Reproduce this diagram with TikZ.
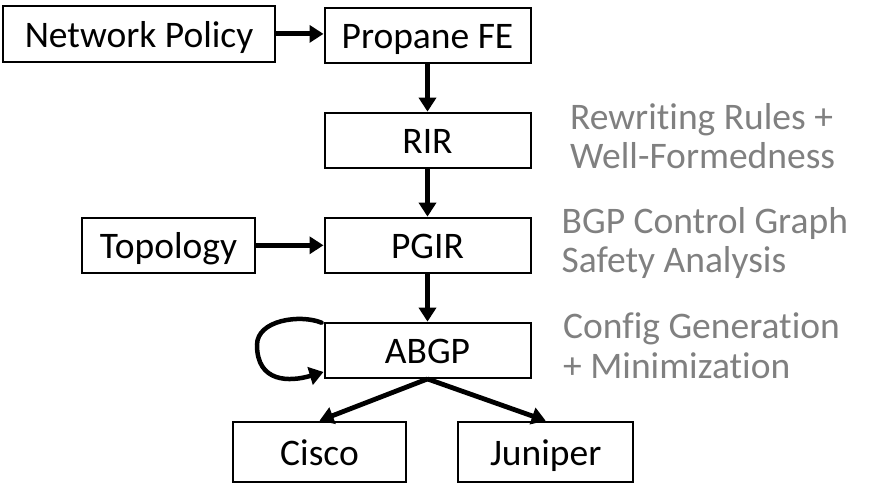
\documentclass[tikz,border=0pt]{standalone}
\usepackage{fontspec}
\setmainfont{Carlito}[RawFeature={-liga;-clig}]
\usetikzlibrary{arrows.meta}
\definecolor{notegray}{RGB}{128,128,128}
\tikzset{
  box/.style={draw=black, line width=2pt, inner sep=0pt, text height=27.2pt, text depth=0pt,
              font=\fontsize{37.5}{45}\selectfont},
  conn/.style={line width=4.8pt, -{Triangle[length=14pt,width=17pt]}},
  loopconn/.style={line width=4.5pt, line cap=round, -{Triangle[length=14pt,width=18pt]}},
  note/.style={inner sep=0pt, anchor=base west, text=notegray, font=\fontsize{37.5}{45}\selectfont}
}
\begin{document}
\begin{tikzpicture}[x=1pt,y=-1pt]
\useasboundingbox (0,0) rectangle (876,497);
\node[box, minimum width=272pt, minimum height=55.7pt] (NP) at (139,33.9) {Network Policy};
\node[box, minimum width=206pt, minimum height=55.3pt] (PF) at (427.5,35.3) {Propane FE};
\node[box, minimum width=206pt, minimum height=55.3pt] (RIR) at (427.5,140.3) {RIR};
\node[box, minimum width=206pt, minimum height=55.3pt] (PGIR) at (427.5,245.3) {PGIR};
\node[box, minimum width=173pt, minimum height=55.3pt] (Topo) at (168.5,245.3) {Topology};
\node[box, minimum width=206pt, minimum height=55.3pt] (ABGP) at (427.5,350.3) {ABGP};
\node[box, minimum width=173.6pt, minimum height=60pt] (Cisco) at (319.5,451.7) {Cisco};
\node[box, minimum width=174.7pt, minimum height=60pt] (Juniper) at (545.7,451.7) {Juniper};

\node[note] (n1a) at (570,129.5) {Rewriting Rules +};
\node[note] (n1b) at (570,168.3) {Well-Formedness};
\node[note] (n2a) at (561.5,233.5) {BGP Control Graph};
\node[note] (n2b) at (561.5,272.5) {Safety Analysis};
\node[note] (n3a) at (563,338.3) {Config Generation};
\node[note] (n3b) at (563,378.3) {+ Minimization};

\draw[conn] (NP.east) -- (NP.east -| PF.west);
\draw[conn] (PF.south) -- (PF.south |- RIR.north);
\draw[conn] (RIR.south) -- (RIR.south |- PGIR.north);
\draw[conn] (Topo.east) -- (Topo.east -| PGIR.west);
\draw[conn] (PGIR.south) -- (PGIR.south |- ABGP.north);
\draw[conn] (ABGP.south) -- (Cisco.north);
\draw[conn] (ABGP.south) -- (Juniper.north);
\draw[loopconn] ([xshift=-2pt,yshift=-1pt]ABGP.north west)
  .. controls (300,314) and (257,320) .. (257,345)
  .. controls (257,383) and (290,382) .. ([yshift=7pt]ABGP.south west);
\end{tikzpicture}
\end{document}
